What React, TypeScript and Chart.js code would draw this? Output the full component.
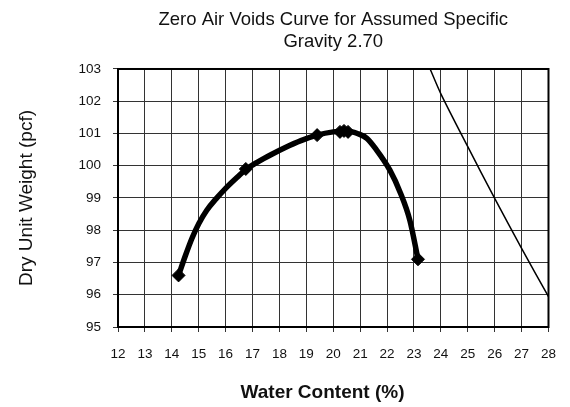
import React, { useEffect, useRef } from "react";
import { Chart, registerables } from "chart.js";

Chart.register(...registerables);

// Compaction test points (water content %, dry unit weight pcf)
const testWater = [14.25, 16.75, 19.4, 20.25, 20.4, 20.55, 23.15];
const testDry = [96.6, 99.9, 100.95, 101.05, 101.08, 101.05, 97.1];

// Smoothed compaction curve
const curveWater = [14.25, 14.5, 14.75, 15.0, 15.3, 15.65, 16.0, 16.4, 16.75, 17.2, 17.7, 18.2, 18.8, 19.4, 20.0, 20.5, 20.9, 21.25, 21.6, 22.1, 22.5, 22.85, 23.15];
const curveDry = [96.6, 97.2, 97.75, 98.2, 98.62, 98.98, 99.3, 99.62, 99.88, 100.12, 100.35, 100.56, 100.78, 100.95, 101.05, 101.08, 101.0, 100.85, 100.5, 99.87, 99.15, 98.3, 97.1];

// Zero air voids line (Gs = 2.70)
const zavWater = [23.6, 24, 25, 26, 27, 28];
const zavDry = [103.0, 102.23, 100.59, 98.99, 97.44, 95.94];

const xTicks = [12, 13, 14, 15, 16, 17, 18, 19, 20, 21, 22, 23, 24, 25, 26, 27, 28];
const yTicks = [95, 96, 97, 98, 99, 100, 101, 102, 103];

const titleLines = ["Zero Air Voids Curve for Assumed Specific", "Gravity 2.70"];
const xTitle = "Water Content (%)";
const yTitle = "Dry Unit Weight (pcf)";

const FONT = "'Liberation Sans', Arial, sans-serif";

const toPts = (xs: number[], ys: number[]) => xs.map((x, i) => ({ x, y: ys[i] }));

const borderPlugin = {
  id: "plotBorder",
  afterDatasetsDraw(chart: any) {
    const { ctx, chartArea } = chart;
    ctx.save();
    ctx.strokeStyle = "#000";
    ctx.lineWidth = 2;
    ctx.strokeRect(chartArea.left, chartArea.top, chartArea.right - chartArea.left, chartArea.bottom - chartArea.top);
    ctx.restore();
  },
};

const xTitlePlugin = {
  id: "xTitleText",
  afterDraw(chart: any) {
    const { ctx, chartArea } = chart;
    ctx.save();
    ctx.fillStyle = "#111";
    ctx.font = `bold 19px ${FONT}`;
    ctx.textAlign = "center";
    ctx.textBaseline = "alphabetic";
    const cx = chartArea.left + (chartArea.right - chartArea.left) * 0.475;
    ctx.fillText(xTitle, cx, chartArea.bottom + 71);
    ctx.restore();
  },
};

export default function App() {
  const ref = useRef<HTMLCanvasElement | null>(null);
  useEffect(() => {
    if (!ref.current) return;
    const chart = new Chart(ref.current, {
      type: "scatter",
      data: {
        datasets: [
          {
            label: "curve",
            data: toPts(curveWater, curveDry),
            showLine: true,
            borderColor: "#000",
            borderWidth: 5.5,
            pointRadius: 0,
            cubicInterpolationMode: "monotone",
            order: 2,
          },
          {
            label: "points",
            data: toPts(testWater, testDry),
            showLine: false,
            pointStyle: "rectRot",
            pointRadius: 6.5,
            backgroundColor: "#000",
            borderColor: "#000",
            order: 1,
          },
          {
            label: "zav",
            data: toPts(zavWater, zavDry),
            showLine: true,
            borderColor: "#000",
            borderWidth: 1.5,
            pointRadius: 0,
            tension: 0.3,
            order: 3,
          },
        ],
      },
      options: {
        animation: false,
        responsive: false,
        maintainAspectRatio: false,
        layout: { padding: { left: 0, right: 21, top: 0, bottom: 0 } },
        plugins: {
          legend: { display: false },
          tooltip: { enabled: false },
          title: {
            display: true,
            text: titleLines,
            fullSize: false,
            color: "#111",
            font: { family: FONT, size: 18.5, weight: "normal", lineHeight: 1.17 },
            padding: { top: 9, bottom: 16.7 },
          },
        },
        scales: {
          x: {
            type: "linear",
            min: 12,
            max: 28,
            afterBuildTicks: (s: any) => {
              s.ticks = xTicks.map((v) => ({ value: v }));
            },
            afterFit: (s: any) => {
              s.height = 80;
            },
            ticks: {
              color: "#111",
              font: { family: FONT, size: 13.5 },
              padding: 14,
              maxRotation: 0,
              autoSkip: false,
            },
            grid: { color: "#333", lineWidth: 1, tickLength: 5, drawTicks: true },
            border: { display: false },
            title: { display: false },
          },
          y: {
            type: "linear",
            min: 95,
            max: 103,
            afterBuildTicks: (s: any) => {
              s.ticks = yTicks.map((v) => ({ value: v }));
            },
            afterFit: (s: any) => {
              s.width = 118;
            },
            ticks: {
              color: "#111",
              font: { family: FONT, size: 13.5 },
              padding: 12,
            },
            grid: { color: "#333", lineWidth: 1, tickLength: 5, drawTicks: true },
            border: { display: false },
            title: {
              display: true,
              text: yTitle,
              color: "#111",
              font: { family: FONT, size: 19, weight: "normal" },
              padding: { top: 15, bottom: 10 },
            },
          },
        },
      },
      plugins: [borderPlugin, xTitlePlugin],
    } as any);
    return () => chart.destroy();
  }, []);
  return (
    <div style={{ position: "fixed", left: 0, top: 0, width: 570, height: 407, background: "#fff" }}>
      <canvas ref={ref} width={570} height={407} style={{ width: 570, height: 407, display: "block" }} />
    </div>
  );
}
